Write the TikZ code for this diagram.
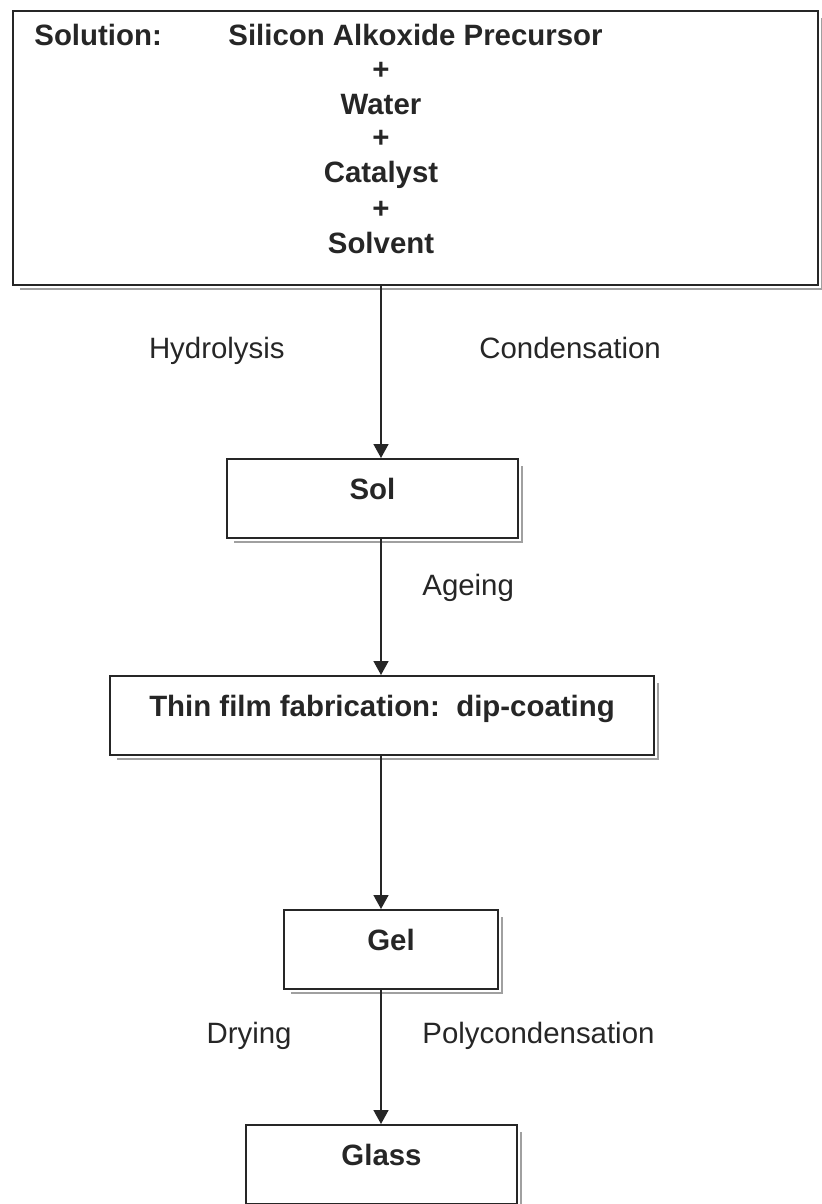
\documentclass[tikz,border=0pt]{standalone}
\usepackage{fontspec}
\setmainfont{Liberation Sans}
\usetikzlibrary{arrows.meta}
\definecolor{ink}{HTML}{262626}
\definecolor{shadowgrey}{HTML}{A0A0A0}

\begin{document}
\begin{tikzpicture}[x=0.5pt,y=0.5pt,font=\fontsize{14.7}{17}\selectfont,
  stagebox/.style={draw=ink,line width=1pt,inner sep=0pt,anchor=north west,
    text height=20pt,text depth=19.5pt,text=ink,font=\fontsize{14.7}{17}\selectfont\bfseries},
  lbl/.style={inner sep=0pt,text height=11pt,text depth=3pt,text=ink},
  bold/.style={lbl,font=\fontsize{14.7}{17}\selectfont\bfseries},
  flow/.style={draw=ink,line width=0.8pt,-{Triangle[width=7.5pt,length=7pt]}}]
  \useasboundingbox (0,0) rectangle (821,-1204);
  % process stages, top to bottom
  \node[draw=ink,line width=1pt,inner sep=0pt,anchor=north west,
    minimum width=402.5pt,minimum height=137pt] (mix) at (12,-10) {};
  \node[bold,anchor=west] (head) at (34,-38) {Solution:};
  \node[bold,anchor=west] (prec) at (228,-38) {Silicon Alkoxide Precursor};
  \foreach \t/\y [count=\i] in {+/72,Water/107,+/140,Catalyst/175,+/210,Solvent/245}
    \node[bold] (part\i) at (381,-\y) {\t};
  \node[stagebox,minimum width=145.5pt] (sol) at (226,-458) {Sol};
  \node[stagebox,minimum width=272pt] (thin) at (109,-675) {Thin film fabrication:\ \ dip-coating};
  \node[stagebox,minimum width=107pt] (gel) at (283,-909) {Gel};
  \node[stagebox,minimum width=135.5pt] (glass) at (245,-1124) {Glass};
  % grey shadow on bottom and right
  \foreach \b in {mix,sol,thin,gel,glass}
    \draw[draw=shadowgrey,line width=1.2pt] ([shift={(8,-3)}]\b.south west) -- ([shift={(3,-3)}]\b.south east) -- ([shift={(3,-8)}]\b.north east);
  % connectors
  \coordinate (axis) at (381,0);
  \draw[flow] (mix.south -| axis) -- (sol.north -| axis);
  \draw[flow] (sol.south -| axis) -- (thin.north -| axis);
  \draw[flow] (thin.south -| axis) -- (gel.north -| axis);
  \draw[flow] (gel.south -| axis) -- (glass.north -| axis);
  % step labels
  \node[lbl,anchor=east] (hydro) at (285,-350) {Hydrolysis};
  \node[lbl,anchor=west] (cond) at (479,-350) {Condensation};
  \node[lbl,anchor=west] (age) at (422,-587) {Ageing};
  \node[lbl,anchor=east] (dry) at (292,-1035) {Drying};
  \node[lbl,anchor=west] (poly) at (422,-1035) {Polycondensation};
\end{tikzpicture}
\end{document}
